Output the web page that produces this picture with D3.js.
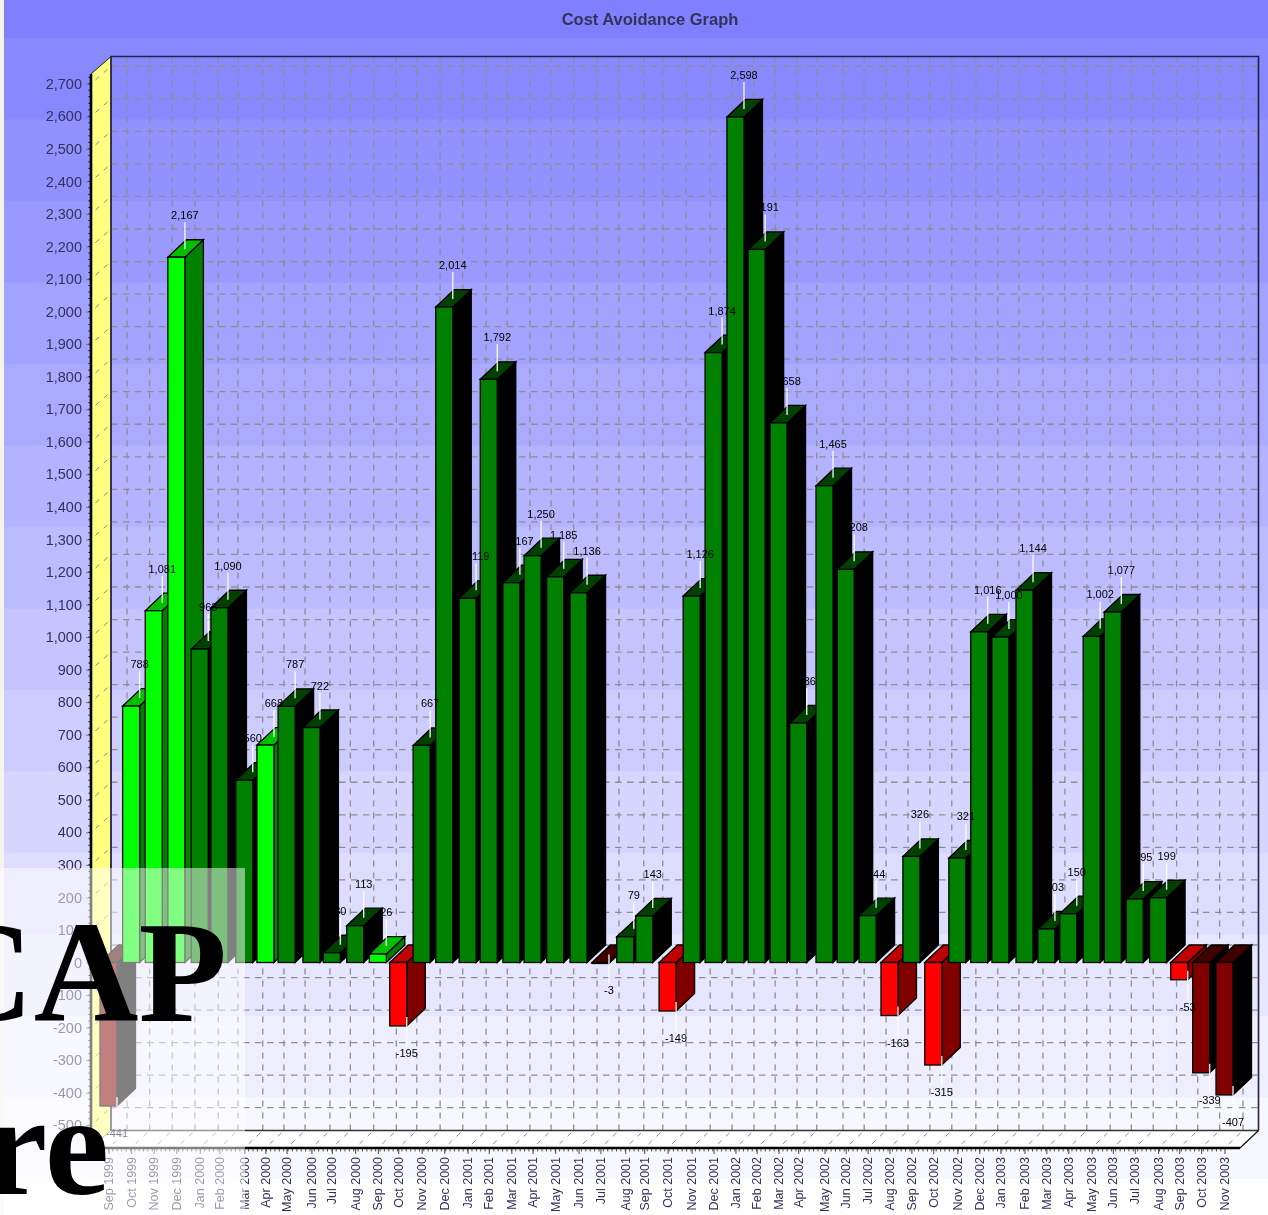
<!DOCTYPE html>
<html><head><meta charset="utf-8">
<script src="https://cdn.jsdelivr.net/npm/d3@7/dist/d3.min.js"></script>
<style>html,body{margin:0;padding:0;background:#fff;overflow:hidden}svg{display:block}</style>
</head><body><svg id="c" width="1268" height="1215"></svg>
<script>
const title = "Cost Avoidance Graph";
const months = ["Sep 1999","Oct 1999","Nov 1999","Dec 1999","Jan 2000","Feb 2000","Mar 2000","Apr 2000","May 2000","Jun 2000","Jul 2000","Aug 2000","Sep 2000","Oct 2000","Nov 2000","Dec 2000","Jan 2001","Feb 2001","Mar 2001","Apr 2001","May 2001","Jun 2001","Jul 2001","Aug 2001","Sep 2001","Oct 2001","Nov 2001","Dec 2001","Jan 2002","Feb 2002","Mar 2002","Apr 2002","May 2002","Jun 2002","Jul 2002","Aug 2002","Sep 2002","Oct 2002","Nov 2002","Dec 2002","Jan 2003","Feb 2003","Mar 2003","Apr 2003","May 2003","Jun 2003","Jul 2003","Aug 2003","Sep 2003","Oct 2003","Nov 2003"];
// day of the month each reading falls on (the axis is a date axis)
const days = [5,6,6,7,8,4,9,7,6,9,7,8,8,6,7,8,9,7,10,8,9,10,10,13,8,10,12,12,11,9,11,7,13,11,11,10,9,9,11,11,9,11,13,12,14,12,12,13,11,11,12];
const values = [-441,788,1081,2167,963,1090,560,668,787,722,30,113,26,-195,667,2014,1119,1792,1167,1250,1185,1136,-3,79,143,-149,1126,1874,2598,2191,1658,736,1465,1208,144,-163,326,-315,321,1016,1000,1144,103,150,1002,1077,195,199,-53,-339,-407];
// a = bright green, b = dark green, c = bright red, d = dark red
const tiers = "dAAAbbbAbbbbAcbbbbbbbbdbbcbbbbbbbbbcbcbbbbbbbbbbcdd".toLowerCase().split("");
const palette = {
  a:{face:"#00ff00",side:"#008000",top:"#00c000"},
  b:{face:"#008000",side:"#000000",top:"#004000"},
  c:{face:"#ff0000",side:"#800000",top:"#c00000"},
  d:{face:"#800000",side:"#000000",top:"#400000"}
};
const bgTop=[128,128,255], bandCount=16;

const svg=d3.select("#c");
const W=1268,H=1215;
const dx=18.5,dy=-17.5,barW=17;
const mon={Jan:0,Feb:1,Mar:2,Apr:3,May:4,Jun:5,Jul:6,Aug:7,Sep:8,Oct:9,Nov:10,Dec:11};
const rows=months.map((m,i)=>{const [a,b]=m.split(" ");return {m,date:new Date(Date.UTC(+b,mon[a],days[i])),v:values[i],t:palette[tiers[i]]};});
const fmt=v=>d3.format(",")(v).replace("\u2212","-");

// background bands
const bandH=81.5, bandStart=38-bandH;
const band=d3.scaleLinear().domain([0,bandCount-1]).range([0,1]);
svg.append("g").selectAll("rect").data(d3.range(bandCount)).join("rect")
  .attr("x",0).attr("width",W).attr("y",i=>bandStart+i*bandH).attr("height",bandH+1)
  .attr("fill",i=>{const t=band(i);return d3.rgb(bgTop[0]+(255-bgTop[0])*t,bgTop[1]+(255-bgTop[1])*t,255);});
svg.append("rect").attr("x",0).attr("y",0).attr("width",4).attr("height",H).attr("fill","#f6f3ec");

const chart=svg.append("g").attr("filter","url(#soft)");
svg.append("defs").append("filter").attr("id","soft").attr("x",0).attr("y",0).attr("width",W).attr("height",H)
  .attr("filterUnits","userSpaceOnUse").append("feGaussianBlur").attr("stdDeviation",0.45);

const x=d3.scaleUtc().domain([rows[0].date,rows[rows.length-1].date]).range([100,1216]);
const y=d3.scaleLinear().domain([-570,2730]).range([1148,74]);
const yTicks=d3.range(-500,2701,100);
const cx=d=>x(d.date)+barW/2;
const leftX=91,rightX=1240,topY=74,bottomY=1148;

// walls
chart.append("path").attr("d",`M${leftX},${topY}L${leftX+20},${topY+dy}V${bottomY+dy}L${leftX},${bottomY}Z`).attr("fill","#ffff80").attr("stroke","#222").attr("stroke-width",1);
chart.append("path").attr("d",`M${leftX},${bottomY}L${leftX+20},${bottomY+dy}H${rightX+dx}L${rightX},${bottomY}Z`).attr("fill","#fff").attr("stroke","none");
const gridC="#8e8e8e";
const grid=chart.append("g").attr("fill","none").attr("stroke",gridC).attr("stroke-width",1.3);
grid.selectAll(".h").data(yTicks).join("line").attr("class","h")
  .attr("x1",leftX+20).attr("x2",rightX+dx).attr("y1",d=>y(d)+dy).attr("y2",d=>y(d)+dy).attr("stroke-dasharray","6.5,5.5");
grid.selectAll(".d").data(yTicks).join("line").attr("class","d")
  .attr("x1",leftX).attr("x2",leftX+20).attr("y1",d=>y(d)).attr("y2",d=>y(d)+dy).attr("stroke-dasharray","5,6").attr("stroke-dashoffset",-6).attr("stroke-width",1);
grid.selectAll(".v").data(rows).join("line").attr("class","v")
  .attr("x1",d=>cx(d)+dx).attr("x2",d=>cx(d)+dx).attr("y1",topY+dy).attr("y2",bottomY+dy).attr("stroke-dasharray","6,6");
grid.selectAll(".f").data(rows).join("line").attr("class","f")
  .attr("x1",d=>cx(d)).attr("x2",d=>cx(d)+dx).attr("y1",bottomY).attr("y2",bottomY+dy).attr("stroke-dasharray","5,6").attr("stroke-dashoffset",-6).attr("stroke-width",1);
// wall borders
chart.append("path").attr("d",`M${leftX+20},${bottomY+dy}V${topY+dy}H${rightX+dx}V${bottomY+dy}`).attr("fill","none").attr("stroke","#23234a").attr("stroke-width",1.6);
chart.append("path").attr("d",`M${leftX+20},${bottomY+dy}H${rightX+dx}`).attr("fill","none").attr("stroke","#333").attr("stroke-width",1.6);
chart.append("path").attr("d",`M${rightX+dx},${bottomY+dy}L${rightX},${bottomY}`).attr("fill","none").attr("stroke","#111").attr("stroke-width",1.2);

// bars
const y0=y(0);
const bars=chart.append("g").attr("stroke","#000").attr("stroke-width",1.3).attr("stroke-linejoin","miter");
rows.forEach(d=>{
  const l=x(d.date), r=l+barW, vy=y(d.v), t=Math.min(vy,y0), b=Math.max(vy,y0);
  const g=bars.append("g");
  g.append("path").attr("d",`M${r},${t}L${r+dx},${t+dy}V${b+dy}L${r},${b}Z`).attr("fill",d.t.side);
  g.append("path").attr("d",`M${l},${t}L${l+dx},${t+dy}H${r+dx}L${r},${t}Z`).attr("fill",d.t.top);
  g.append("rect").attr("x",l).attr("y",t).attr("width",barW).attr("height",b-t).attr("fill",d.t.face);
});

// value callouts
const call=chart.append("g");
call.selectAll("line").data(rows).join("line")
  .attr("x1",d=>x(d.date)+barW).attr("x2",d=>x(d.date)+barW)
  .attr("y1",d=>d.v>=0?y(d.v)-8:y(d.v)-9)
  .attr("y2",d=>d.v>=0?y(d.v)-35:y(d.v)+20)
  .attr("stroke","#fff").attr("stroke-width",1.4).attr("stroke-opacity",.9);
call.selectAll("text").data(rows).join("text")
  .attr("x",d=>x(d.date)+barW).attr("y",d=>d.v>=0?y(d.v)-42:y(d.v)+27)
  .attr("text-anchor","middle").attr("dominant-baseline","central")
  .attr("font-family","'Liberation Sans',Arial,sans-serif").attr("font-size",11).attr("fill","#000")
  .text(d=>fmt(d.v));

// axes
const axisC="#33335a";
const yAxis=chart.append("g").attr("transform",`translate(${leftX},0)`)
  .call(d3.axisLeft(y).tickValues(yTicks).tickFormat(fmt).tickSize(5).tickPadding(4));
yAxis.select(".domain").remove();
yAxis.selectAll("line").attr("stroke","#777");
yAxis.selectAll("text").attr("font-family","'Liberation Sans',Arial,sans-serif").attr("font-size",14.5).attr("fill",axisC);
chart.append("g").selectAll("line").data(d3.range(-560,2721,20)).join("line")
  .attr("x1",leftX-2.5).attr("x2",leftX).attr("y1",d=>y(d)).attr("y2",d=>y(d)).attr("stroke","#000").attr("stroke-width",1);
chart.append("line").attr("x1",leftX).attr("x2",leftX).attr("y1",topY).attr("y2",bottomY).attr("stroke","#000").attr("stroke-width",2.6);

const xAxis=chart.append("g").attr("transform",`translate(${barW/2},${bottomY})`)
  .call(d3.axisBottom(x).tickValues(rows.map(d=>d.date)).tickFormat((d,i)=>months[i]).tickSize(6).tickPadding(3));
xAxis.select(".domain").remove();
xAxis.selectAll("line").attr("stroke","#444");
xAxis.selectAll("text").attr("font-family","'Liberation Sans',Arial,sans-serif").attr("font-size",12.5).attr("fill",axisC)
  .attr("text-anchor","end").attr("dy",0).attr("dominant-baseline","central")
  .attr("transform","translate(0,9) rotate(-90)").attr("y",0).attr("x",0);
chart.append("g").selectAll("line").data(d3.utcDays(rows[0].date,rows[rows.length-1].date,6)).join("line")
  .attr("x1",d=>x(d)+barW/2).attr("x2",d=>x(d)+barW/2).attr("y1",bottomY).attr("y2",bottomY+3.5).attr("stroke","#555").attr("stroke-width",1);
chart.append("line").attr("x1",leftX).attr("x2",rightX).attr("y1",bottomY).attr("y2",bottomY).attr("stroke","#000").attr("stroke-width",2.6);

// title
chart.append("text").attr("x",650).attr("y",19).attr("text-anchor","middle").attr("dominant-baseline","central")
  .attr("font-family","'Liberation Sans',Arial,sans-serif").attr("font-weight","bold").attr("font-size",16.5).attr("fill","#33335a").text(title);

// pale panel and large lettering over the chart's corner
svg.append("rect").attr("x",0).attr("y",868).attr("width",245).attr("height",H-868).attr("fill","#fff").attr("fill-opacity",.5);
const big=svg.append("g").attr("font-family","'Liberation Serif','Times New Roman',serif").attr("font-weight","bold").attr("font-size",145).attr("fill","#000");
big.append("text").attr("x",-71).attr("y",1021).text("CAP");
big.append("text").attr("x",-17).attr("y",1194).text("re");
</script></body></html>
